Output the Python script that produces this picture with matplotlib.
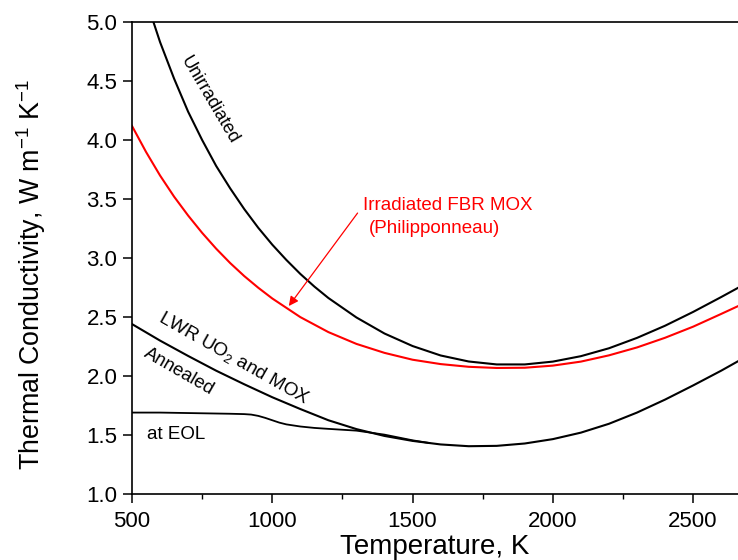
import matplotlib
matplotlib.use("Agg")
import matplotlib.pyplot as plt
from matplotlib.ticker import MultipleLocator, FormatStrFormatter

plt.rcParams['font.family'] = ['Liberation Sans', 'DejaVu Sans']
plt.rcParams['mathtext.fontset'] = 'custom'
plt.rcParams['mathtext.rm'] = 'Liberation Sans'
plt.rcParams['mathtext.it'] = 'Liberation Sans:italic'

# Thermal conductivity curves (W m^-1 K^-1) vs temperature (K)
t_unirr = [550, 600, 650, 700, 750, 800, 850, 900, 950, 1000, 1050, 1100, 1150, 1200,
           1300, 1400, 1500, 1600, 1700, 1800, 1900, 2000, 2100, 2200, 2300, 2400,
           2500, 2600, 2660]
k_unirr = [5.19, 4.83, 4.52, 4.24, 4.00, 3.78, 3.59, 3.415, 3.256, 3.113, 2.984, 2.865,
           2.758, 2.661, 2.496, 2.36, 2.254, 2.174, 2.123, 2.098, 2.098, 2.122, 2.168,
           2.235, 2.323, 2.426, 2.543, 2.669, 2.747]

t_fbr = [500, 550, 600, 650, 700, 750, 800, 850, 900, 950, 1000, 1100, 1200, 1300,
         1400, 1500, 1600, 1700, 1800, 1900, 2000, 2100, 2200, 2300, 2400, 2500,
         2600, 2660]
k_fbr = [4.119, 3.899, 3.699, 3.52, 3.36, 3.213, 3.079, 2.957, 2.847, 2.748, 2.657,
         2.499, 2.372, 2.272, 2.196, 2.138, 2.101, 2.078, 2.068, 2.07, 2.088, 2.122,
         2.175, 2.242, 2.324, 2.418, 2.526, 2.592]

t_lwr = [500, 600, 700, 800, 900, 1000, 1100, 1200, 1300, 1400, 1500, 1600, 1700,
         1800, 1900, 2000, 2100, 2200, 2300, 2400, 2500, 2600, 2660]
k_lwr = [2.44, 2.30, 2.17, 2.045, 1.93, 1.82, 1.72, 1.625, 1.55, 1.492, 1.45, 1.42,
         1.405, 1.408, 1.428, 1.465, 1.52, 1.595, 1.69, 1.80, 1.92, 2.045, 2.125]

t_eol = [500, 600, 700, 800, 850, 900, 925, 950, 975, 1000, 1025, 1050, 1100, 1150,
         1200, 1300, 1400, 1500, 1560]
k_eol = [1.69, 1.69, 1.686, 1.682, 1.68, 1.677, 1.673, 1.662, 1.645, 1.625, 1.605,
         1.59, 1.572, 1.56, 1.552, 1.537, 1.503, 1.455, 1.432]

fig = plt.figure(figsize=(7.38, 5.60), dpi=100)
ax = fig.add_axes([132 / 738, 66 / 560, 1 - 132 / 738, 472 / 560])

ax.plot(t_unirr, k_unirr, color='black', lw=1.5)
ax.plot(t_fbr, k_fbr, color='#ff0000', lw=1.5)
ax.plot(t_lwr, k_lwr, color='black', lw=1.5)
ax.plot(t_eol, k_eol, color='black', lw=1.3)

ax.set_xlim(500, 2660)
ax.set_ylim(1.0, 5.0)
ax.xaxis.set_major_locator(MultipleLocator(500))
ax.xaxis.set_minor_locator(MultipleLocator(250))
ax.yaxis.set_major_locator(MultipleLocator(0.5))
ax.yaxis.set_major_formatter(FormatStrFormatter('%.1f'))

ax.spines['right'].set_visible(False)
for s in ('left', 'bottom', 'top'):
    ax.spines[s].set_linewidth(1.2)
ax.tick_params(which='major', direction='out', length=6.5, width=1.1,
               labelsize=16, pad=4)
ax.tick_params(which='minor', direction='out', length=3.5, width=1.0)
ax.tick_params(axis='x', which='major', pad=6)
ax.tick_params(top=False, right=False)

ax.set_xlabel('Temperature, K', fontsize=20, labelpad=1)
ax.set_ylabel('Thermal Conductivity, W m$^{-1}$ K$^{-1}$', fontsize=19.3)
ax.yaxis.set_label_coords(-0.139, 0.465)

ax.text(777, 4.34, 'Unirradiated', fontsize=13, rotation=-59.5,
        rotation_mode='anchor', ha='center', va='center')
ax.text(862, 2.153, 'LWR UO$_2$ and MOX', fontsize=13.6, rotation=-29.5,
        rotation_mode='anchor', ha='center', va='center')
ax.text(667, 2.034, 'Annealed', fontsize=13.3, rotation=-30,
        rotation_mode='anchor', ha='center', va='center')
ax.text(657, 1.508, 'at EOL', fontsize=13.5, ha='center', va='center')

ax.text(1322, 3.449, 'Irradiated FBR MOX', fontsize=13.5, color='#ff0000',
        ha='left', va='center')
ax.text(1343, 3.254, '(Philipponneau)', fontsize=13.5, color='#ff0000',
        ha='left', va='center')
ax.annotate('', xy=(1059, 2.593), xytext=(1304, 3.381),
            arrowprops=dict(arrowstyle='-|>', color='#ff0000', lw=0.9,
                            mutation_scale=14, shrinkA=0, shrinkB=0))

fig.savefig('out.png', dpi=100)
